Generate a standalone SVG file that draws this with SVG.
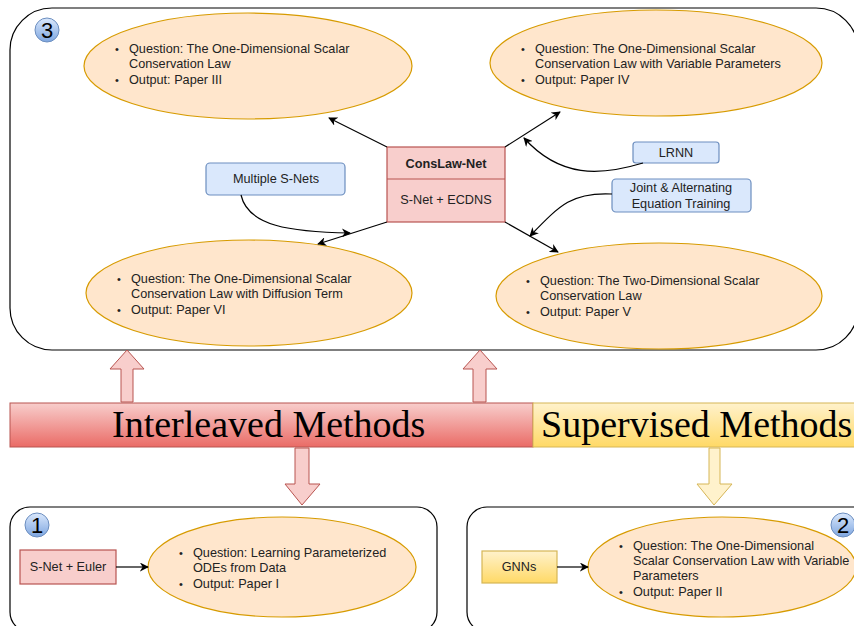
<svg xmlns="http://www.w3.org/2000/svg" width="854" height="626" viewBox="0 0 854 626">
  <defs>
    <linearGradient id="gRed" x1="0" y1="0" x2="0" y2="1">
      <stop offset="0" stop-color="#f8cecc"/>
      <stop offset="1" stop-color="#ea6b66"/>
    </linearGradient>
    <linearGradient id="gYellow" x1="0" y1="0" x2="0" y2="1">
      <stop offset="0" stop-color="#fff2cc"/>
      <stop offset="1" stop-color="#ffd966"/>
    </linearGradient>
    <linearGradient id="gBadge" x1="0" y1="0" x2="0" y2="1">
      <stop offset="0" stop-color="#dae8fc"/>
      <stop offset="1" stop-color="#7ea6e0"/>
    </linearGradient>
    <marker id="arrow" viewBox="0 0 10 10" refX="9" refY="5" markerWidth="9" markerHeight="9" markerUnits="userSpaceOnUse" orient="auto">
      <path d="M0,0 L10,5 L0,10 L3,5 z" fill="#000"/>
    </marker>
  </defs>
  <style>
    .frame { fill: #ffffff; stroke: #000; stroke-width: 1.2; }
    .oval { fill: #ffe6cc; stroke: #d79b00; stroke-width: 1.2; }
    .blue { fill: #dae8fc; stroke: #6c8ebf; stroke-width: 1.2; }
    .red { fill: #f8cecc; stroke: #b85450; stroke-width: 1.2; }
    .gold { fill: url(#gYellow); stroke: #d6b656; stroke-width: 1.2; }
    .badge { fill: url(#gBadge); stroke: #6c8ebf; stroke-width: 1; }
    .num { font-family: "Liberation Sans", Arial, sans-serif; font-size: 22px; fill: #000; text-anchor: middle; }
    .t { font-family: "Liberation Sans", Arial, sans-serif; font-size: 12.7px; fill: #222; }
    .dot { font-family: "Liberation Sans", Arial, sans-serif; font-size: 11px; fill: #222; }
    .c { text-anchor: middle; }
    .b { font-weight: bold; }
    .banner { font-family: "Liberation Serif", "Times New Roman", serif; font-size: 38px; fill: #000; }
    .edge { fill: none; stroke: #000; stroke-width: 1.2; marker-end: url(#arrow); }
    .uparrow-red { fill: #f8cecc; stroke: #b85450; stroke-width: 1; }
    .uparrow-gold { fill: #fff2cc; stroke: #d6b656; stroke-width: 1; }
  </style>

  <!-- Group 3: interleaved methods for conservation laws -->
  <g id="group3">
    <rect class="frame" x="10" y="8" width="848" height="342" rx="42" ry="42"/>
    <circle class="badge" cx="47" cy="30" r="12"/>
    <text class="num" x="47" y="38">3</text>
  </g>

  <g id="paper3">
    <ellipse class="oval" cx="248" cy="66" rx="164" ry="53"/>
    <text class="dot" x="115" y="53">•</text>
    <text class="t" x="129" y="53">Question: The One-Dimensional Scalar</text>
    <text class="t" x="129" y="68">Conservation Law</text>
    <text class="dot" x="115" y="84">•</text>
    <text class="t" x="129" y="84">Output: Paper III</text>
  </g>

  <g id="paper4">
    <ellipse class="oval" cx="656" cy="63" rx="166" ry="53"/>
    <text class="dot" x="521" y="53">•</text>
    <text class="t" x="535" y="53">Question: The One-Dimensional Scalar</text>
    <text class="t" x="535" y="68">Conservation Law with Variable Parameters</text>
    <text class="dot" x="521" y="84">•</text>
    <text class="t" x="535" y="84">Output: Paper IV</text>
  </g>

  <g id="paper6">
    <ellipse class="oval" cx="249" cy="293" rx="163" ry="53"/>
    <text class="dot" x="117" y="283">•</text>
    <text class="t" x="131" y="283">Question: The One-Dimensional Scalar</text>
    <text class="t" x="131" y="298">Conservation Law with Diffusion Term</text>
    <text class="dot" x="117" y="314">•</text>
    <text class="t" x="131" y="314">Output: Paper VI</text>
  </g>

  <g id="paper5">
    <ellipse class="oval" cx="659" cy="296" rx="163" ry="53"/>
    <text class="dot" x="526" y="285">•</text>
    <text class="t" x="540" y="285">Question: The Two-Dimensional Scalar</text>
    <text class="t" x="540" y="300">Conservation Law</text>
    <text class="dot" x="526" y="316">•</text>
    <text class="t" x="540" y="316">Output: Paper V</text>
  </g>

  <g id="conslaw-net">
    <rect class="red" x="387" y="147" width="118" height="75"/>
    <line x1="387" y1="179" x2="505" y2="179" stroke="#b85450" stroke-width="1.2"/>
    <text class="t c b" x="446" y="168">ConsLaw-Net</text>
    <text class="t c" x="446" y="204">S-Net + ECDNS</text>
  </g>

  <g id="multiple-snets">
    <rect class="blue" x="206" y="163" width="139" height="32" rx="4"/>
    <text class="t c" x="276" y="183">Multiple S-Nets</text>
  </g>

  <g id="lrnn">
    <rect class="blue" x="633" y="142" width="86" height="21" rx="3"/>
    <text class="t c" x="676" y="157">LRNN</text>
  </g>

  <g id="joint-training">
    <rect class="blue" x="612" y="179" width="139" height="33" rx="4"/>
    <text class="t c" x="681" y="192">Joint &amp; Alternating</text>
    <text class="t c" x="681" y="208">Equation Training</text>
  </g>

  <!-- Method banner -->
  <g id="interleaved">
    <rect x="10" y="403" width="523" height="44" fill="url(#gRed)" stroke="#b85450" stroke-width="1"/>
    <text class="banner" x="112" y="437">Interleaved Methods</text>
  </g>
  <g id="supervised">
    <rect x="533" y="403" width="330" height="44" fill="url(#gYellow)" stroke="#d6b656" stroke-width="1"/>
    <text class="banner" x="541" y="437">Supervised Methods</text>
  </g>

  <!-- Group 1 -->
  <g id="group1">
    <rect class="frame" x="10" y="507" width="427" height="125" rx="20" ry="20"/>
    <circle class="badge" cx="37" cy="525" r="12"/>
    <text class="num" x="37" y="533">1</text>
  </g>
  <g id="snet-euler">
    <rect class="red" x="20" y="550" width="96" height="34"/>
    <text class="t c" x="68" y="571">S-Net + Euler</text>
  </g>
  <g id="paper1">
    <ellipse class="oval" cx="282" cy="567" rx="134" ry="50"/>
    <text class="dot" x="179" y="557">•</text>
    <text class="t" x="193" y="557">Question: Learning Parameterized</text>
    <text class="t" x="193" y="572">ODEs from Data</text>
    <text class="dot" x="179" y="588">•</text>
    <text class="t" x="193" y="588">Output: Paper I</text>
  </g>

  <!-- Group 2 -->
  <g id="group2">
    <rect class="frame" x="467" y="507" width="420" height="125" rx="20" ry="20"/>
    <circle class="badge" cx="843" cy="525" r="12"/>
    <text class="num" x="843" y="533">2</text>
  </g>
  <g id="gnns">
    <rect class="gold" x="482" y="551" width="75" height="32"/>
    <text class="t c" x="519" y="571">GNNs</text>
  </g>
  <g id="paper2">
    <ellipse class="oval" cx="722" cy="567" rx="134" ry="50"/>
    <text class="dot" x="619" y="550">•</text>
    <text class="t" x="633" y="550">Question: The One-Dimensional</text>
    <text class="t" x="633" y="565">Scalar Conservation Law with Variable</text>
    <text class="t" x="633" y="580">Parameters</text>
    <text class="dot" x="619" y="596">•</text>
    <text class="t" x="633" y="596">Output: Paper II</text>
  </g>

  <!-- Connectors -->
  <g id="connectors">
    <line class="edge" x1="387" y1="147" x2="329" y2="118"/>
    <line class="edge" x1="505" y1="147" x2="560" y2="112"/>
    <line class="edge" x1="387" y1="222" x2="318" y2="244"/>
    <line class="edge" x1="505" y1="222" x2="558" y2="252"/>
    <path class="edge" d="M241,195 C248,226 290,232 350,233"/>
    <path class="edge" d="M643,163 C600,176 560,178 524,138"/>
    <path class="edge" d="M612,194 C572,192 560,205 530,236"/>
    <line class="edge" x1="116" y1="567" x2="148" y2="567"/>
    <line class="edge" x1="557" y1="567" x2="588" y2="567"/>

    <!-- block arrows between banner and groups -->
    <path class="uparrow-red" d="M121,402 L121,369 L110,369 L127,350 L144,369 L133,369 L133,402 Z"/>
    <path class="uparrow-red" d="M473,402 L473,369 L463,369 L480,350 L497,369 L486,369 L486,402 Z"/>
    <path class="uparrow-red" d="M295,448 L295,484 L285,484 L302,505 L320,484 L309,484 L309,448 Z"/>
    <path class="uparrow-gold" d="M709,448 L709,484 L697,484 L714,505 L732,484 L720,484 L720,448 Z"/>
  </g>
</svg>
